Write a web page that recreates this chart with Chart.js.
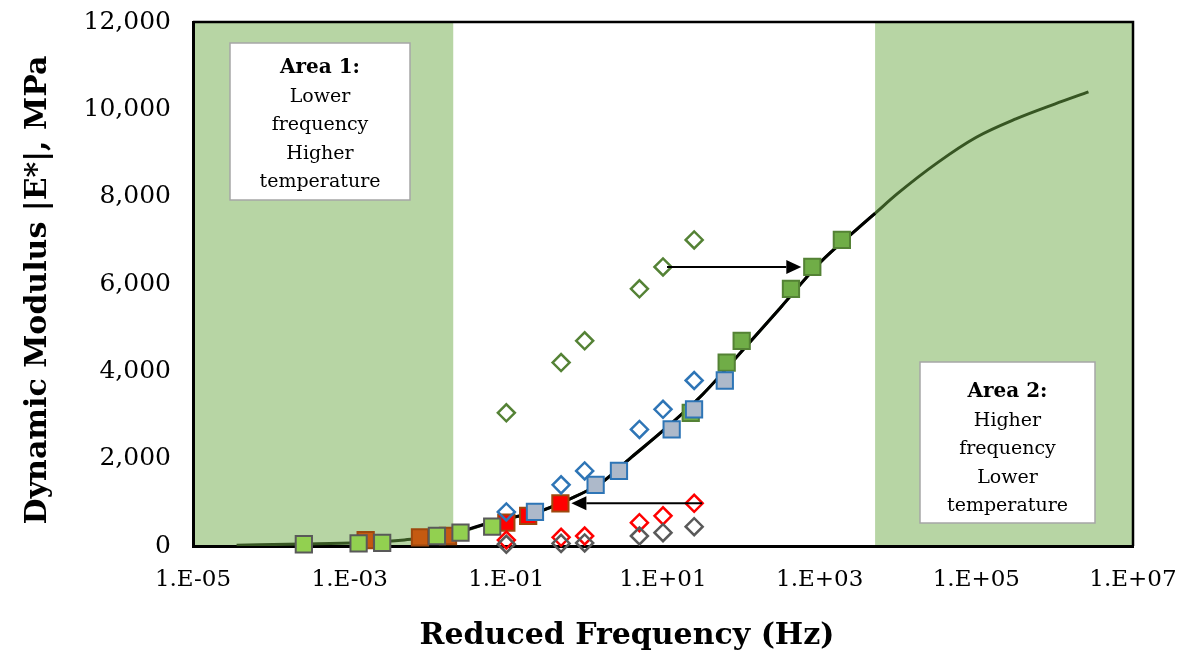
<!DOCTYPE html>
<html>
<head>
<meta charset="utf-8">
<script src="https://cdn.jsdelivr.net/npm/chart.js@4/dist/chart.umd.min.js"></script>
<style>
  html, body { margin: 0; padding: 0; background: #fff; }
  #wrap { width: 1183px; height: 658px; position: relative; }
</style>
</head>
<body>
<div id="wrap"><canvas id="masterCurve" width="1183" height="658"></canvas></div>
<script>
// test frequencies (Hz) and measured |E*| (MPa) at each temperature
var testFreq = [0.1, 0.5, 1, 5, 10, 25];
var modGreen = [3050, 4200, 4700, 5890, 6390, 7010];
var modBlue  = [780, 1400, 1720, 2670, 3130, 3790];
var modRed   = [137, 200, 229, 534, 690, 977];
var modGray  = [40, 60, 70, 229, 305, 443];

// reduced frequencies after shifting
var redFreqGreen = [22.6, 65, 101, 430, 805, 1920];
var redFreqBlue  = [0.232, 1.38, 2.74, 12.9, 24.9, 61.5];
var redFreqRed   = [0.0016, 0.0079, 0.018, 0.1, 0.19, 0.49];
var redFreqGray  = [0.00026, 0.0013, 0.0026, 0.013, 0.026, 0.066];

// fitted master curve
var masterFreq = [3.6e-5, 2.5e-4, 1.3e-3, 5e-3, 0.021, 0.08, 0.25, 0.63, 1.6, 4, 10, 32, 100, 320, 1000, 3200, 5100, 1e4, 3.2e4, 1e5, 3.2e5, 1e6, 2.7e6];
var masterMod  = [20, 45, 75, 140, 280, 590, 780, 1070, 1440, 2040, 2640, 3470, 4450, 5470, 6480, 7300, 7620, 8080, 8780, 9360, 9780, 10120, 10400];
var measuredFrom = 4, measuredTo = 16;   // part of the curve covered by test data

// axis ticks
var xTickValues = [1e-5, 1e-3, 1e-1, 1e1, 1e3, 1e5, 1e7];
var xTickLabels = ['1.E-05', '1.E-03', '1.E-01', '1.E+01', '1.E+03', '1.E+05', '1.E+07'];

// extrapolated regions
var shadeBands = [[1e-5, 0.021], [5100, 1e7]];

// shift arrows: [test freq, reduced freq, modulus]
var arrows = [[10, 805, 6390], [25, 0.49, 977]];

var FONT = "'DejaVu Serif', serif";

function pts(xs, ys) {
  return xs.map(function (v, i) { return { x: v, y: ys[i] }; });
}

function diamonds(label, xs, ys, color, order) {
  return {
    label: label, data: pts(xs, ys), showLine: false, order: order, clip: false,
    pointStyle: 'rectRot', pointRadius: 8.5, pointBorderWidth: 2.5,
    pointBackgroundColor: 'rgba(0,0,0,0)', pointBorderColor: color
  };
}

function squares(label, xs, ys, fill, border, order) {
  return {
    label: label, data: pts(xs, ys), showLine: false, order: order, clip: false,
    pointStyle: 'rect', pointRadius: 11.5, pointBorderWidth: 2,
    pointBackgroundColor: fill, pointBorderColor: border
  };
}

var decor = {
  id: 'decor',
  beforeDraw: function (chart) {
    var ctx = chart.ctx, a = chart.chartArea, x = chart.scales.x;
    ctx.save();
    ctx.fillStyle = 'rgb(183,213,164)';
    shadeBands.forEach(function (b) {
      var x0 = x.getPixelForValue(b[0]), x1 = x.getPixelForValue(b[1]);
      ctx.fillRect(x0, a.top, x1 - x0, a.bottom - a.top);
    });
    ctx.restore();
  },
  afterDatasetsDraw: function (chart) {
    var ctx = chart.ctx, a = chart.chartArea, x = chart.scales.x, y = chart.scales.y;
    ctx.save();
    // frame top and right
    ctx.strokeStyle = '#000';
    ctx.lineWidth = 2.5;
    ctx.beginPath();
    ctx.moveTo(a.left, a.top);
    ctx.lineTo(a.right, a.top);
    ctx.lineTo(a.right, a.bottom);
    ctx.stroke();

    // shift arrows
    ctx.lineWidth = 2;
    ctx.fillStyle = '#000';
    arrows.forEach(function (ar) {
      var xs = x.getPixelForValue(ar[0]), xe = x.getPixelForValue(ar[1]);
      var py = y.getPixelForValue(ar[2]);
      var dir = xe > xs ? 1 : -1;
      var start = xs + (dir > 0 ? 4 : 8);
      var tip = xe - dir * 11;
      var head = 15;
      ctx.beginPath();
      ctx.moveTo(start, py);
      ctx.lineTo(tip - dir * head, py);
      ctx.stroke();
      ctx.beginPath();
      ctx.moveTo(tip, py);
      ctx.lineTo(tip - dir * head, py - 7);
      ctx.lineTo(tip - dir * head, py + 7);
      ctx.closePath();
      ctx.fill();
    });
    ctx.restore();
  },
  afterDraw: function (chart) {
    var ctx = chart.ctx;
    ctx.save();
    // note boxes
    var boxes = [
      { x: 230, y: 43, w: 180, h: 157, first: 30, title: 'Area 1:', lines: ['Lower', 'frequency', 'Higher', 'temperature'] },
      { x: 920, y: 362, w: 175, h: 161, first: 35, title: 'Area 2:', lines: ['Higher', 'frequency', 'Lower', 'temperature'] }
    ];
    boxes.forEach(function (b) {
      ctx.fillStyle = '#fff';
      ctx.fillRect(b.x, b.y, b.w, b.h);
      ctx.strokeStyle = '#a6a6a6';
      ctx.lineWidth = 1.5;
      ctx.strokeRect(b.x, b.y, b.w, b.h);
      ctx.fillStyle = '#000';
      ctx.textAlign = 'center';
      ctx.textBaseline = 'alphabetic';
      var cx = b.x + b.w / 2;
      ctx.font = 'bold 20px ' + FONT;
      ctx.fillText(b.title, cx, b.y + b.first);
      ctx.font = '19px ' + FONT;
      b.lines.forEach(function (t, i) {
        ctx.fillText(t, cx, b.y + b.first + 28.5 * (i + 1));
      });
    });

    // axis titles
    ctx.fillStyle = '#000';
    ctx.textAlign = 'center';
    ctx.textBaseline = 'middle';
    ctx.font = 'bold 30px ' + FONT;
    ctx.fillText('Reduced Frequency (Hz)', 627, 636);
    ctx.translate(38, 290);
    ctx.rotate(-Math.PI / 2);
    ctx.font = 'bold 30px ' + FONT;
    ctx.fillText('Dynamic Modulus |E*|, MPa', 0, 0);
    ctx.restore();
  }
};

var chart = new Chart(document.getElementById('masterCurve'), {
  type: 'scatter',
  data: {
    datasets: [
      diamonds('Green test', testFreq, modGreen, '#548235', 1),
      diamonds('Blue test', testFreq, modBlue, '#2e75b6', 2),
      diamonds('Gray test', testFreq, modGray, '#595959', 3),
      diamonds('Red test', testFreq, modRed, '#ff0000', 4),
      squares('Blue shifted', redFreqBlue, modBlue, '#adb9ca', '#2e75b6', 5),
      squares('Green shifted', redFreqGreen, modGreen, '#70ad47', '#548235', 6),
      squares('Gray shifted', redFreqGray, modGray, '#92d050', '#595959', 7),
      squares('Red shifted', redFreqRed, modRed,
        ['#c55a11', '#c55a11', '#c55a11', '#ff0000', '#ff0000', '#ff0000'], '#9e480e', 8),
      {
        label: 'Master curve',
        data: pts(masterFreq.slice(measuredFrom, measuredTo + 1), masterMod.slice(measuredFrom, measuredTo + 1)),
        showLine: true, pointRadius: 0, borderColor: '#000', borderWidth: 3,
        cubicInterpolationMode: 'monotone', order: 9
      },
      {
        label: 'Extrapolated',
        data: pts(masterFreq, masterMod),
        showLine: true, pointRadius: 0, borderColor: '#375623', borderWidth: 3,
        cubicInterpolationMode: 'monotone', order: 10
      }
    ]
  },
  options: {
    responsive: false,
    animation: false,
    events: [],
    layout: { padding: { left: 0, right: 50, top: 22, bottom: 0 } },
    plugins: { legend: { display: false }, tooltip: { enabled: false } },
    scales: {
      x: {
        type: 'logarithmic',
        min: 1e-5,
        max: 1e7,
        afterBuildTicks: function (scale) {
          scale.ticks = xTickValues.map(function (v) { return { value: v }; });
        },
        afterFit: function (scale) {
          scale.height = 112;
          scale.paddingLeft = 0;
          scale.paddingRight = 0;
        },
        grid: { display: false, drawTicks: false },
        border: { display: true, color: '#000', width: 3 },
        ticks: {
          autoSkip: false, maxRotation: 0, padding: 20, color: '#000',
          font: { family: FONT, size: 23 },
          callback: function (v, i) { return xTickLabels[i]; }
        }
      },
      y: {
        min: 0,
        max: 12000,
        afterFit: function (scale) {
          scale.width = 193;
          scale.paddingTop = 0;
          scale.paddingBottom = 0;
        },
        grid: { display: false, drawTicks: false },
        border: { display: true, color: '#000', width: 3 },
        ticks: {
          stepSize: 2000, padding: 22, color: '#000',
          font: { family: FONT, size: 25 },
          callback: function (v) { return v.toLocaleString('en-US'); }
        }
      }
    }
  },
  plugins: [decor]
});
</script>
</body>
</html>
